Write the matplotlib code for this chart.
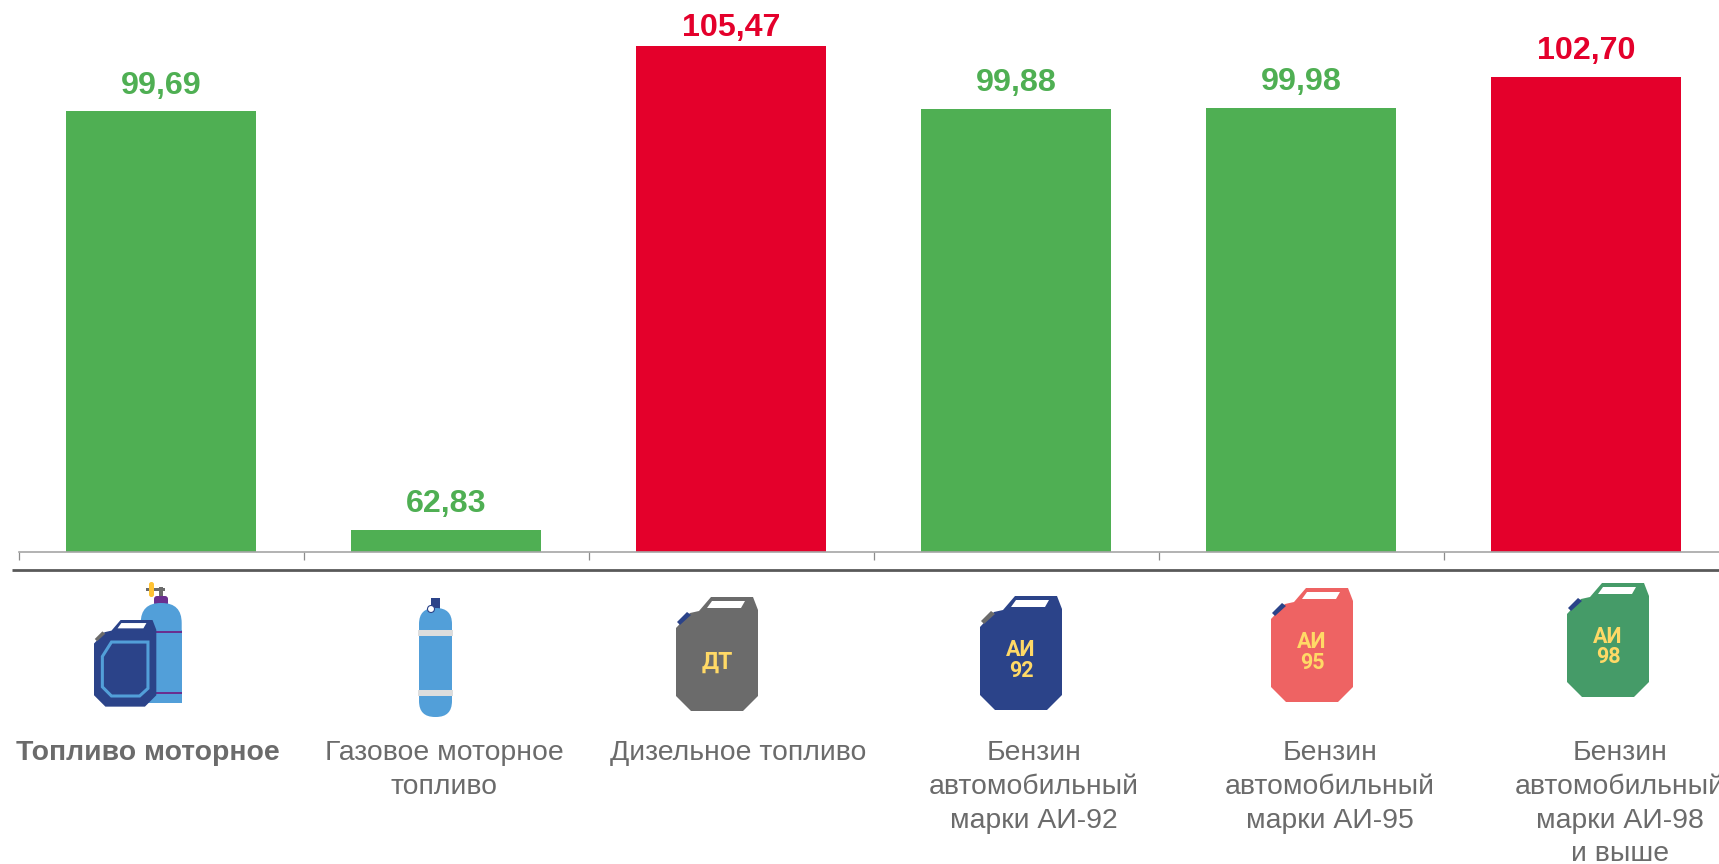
import matplotlib
matplotlib.use('Agg')
import matplotlib.pyplot as plt
from matplotlib.patches import Polygon, Rectangle, FancyBboxPatch, Circle

plt.rcParams['font.family'] = ['Liberation Sans', 'DejaVu Sans']

W, H = 1719, 864

categories = ['Топливо моторное', 'Газовое моторное\nтопливо', 'Дизельное топливо',
              'Бензин\nавтомобильный\nмарки АИ-92', 'Бензин\nавтомобильный\nмарки АИ-95',
              'Бензин\nавтомобильный\nмарки АИ-98\nи выше']
values = [99.69, 62.83, 105.47, 99.88, 99.98, 102.70]
value_labels = ['99,69', '62,83', '105,47', '99,88', '99,98', '102,70']

GREEN = '#4FAF53'
RED = '#E4002B'
GREY = '#6B6B6B'
NAVY = '#2B4389'
BLUE = '#529FD9'
YELLOW = '#FFD966'
PURPLE = '#6A2F8F'
bar_colors = [RED if v > 100 else GREEN for v in values]

label_x = [148, 444, 738, 1034, 1330, 1620]

fig = plt.figure(figsize=(W / 100, H / 100), dpi=100)

# chart axes: 285px per category, runs off the right edge like the original
left, base = 18.6, 552
ax = fig.add_axes([left / W, 1 - base / H, 285 * 6 / W, base / H])
scale = 11.365
ax.set_ylim(60.93, 60.93 + base / scale)
ax.set_xlim(0, 6)
x = [i + 0.5 for i in range(len(values))]
ax.bar(x, values, width=0.669, color=bar_colors)
for xi, v, s, c in zip(x, values, value_labels, bar_colors):
    # tallest label is squeezed against the top of the picture
    gap = 1.7 if v == max(values) else 7.9
    ax.annotate(s, (xi, v), xytext=(0, gap), textcoords='offset points', ha='center', va='bottom',
                fontsize=23.2, fontweight='bold', color=c)
for s in ['top', 'left', 'right']:
    ax.spines[s].set_visible(False)
ax.spines['bottom'].set_color('#A6A6A6')
ax.spines['bottom'].set_linewidth(1.2)
ax.patch.set_alpha(0)
ax.set_yticks([])
ax.set_xticks(range(6))
ax.set_xticklabels([])
ax.tick_params(axis='x', length=5.8, width=0.9, color='#8C8C8C')

# overlay in pixel coords for the line, icons and captions
ov = fig.add_axes([0, 0, 1, 1])
ov.set_xlim(0, W)
ov.set_ylim(H, 0)
ov.axis('off')
ov.patch.set_alpha(0)

ov.plot([12, W], [570, 570], color='#595959', lw=2, solid_capstyle='butt')

body = [(0, 31), (14, 16), (23, 14), (35, 0), (77, 0), (82, 13), (82, 99), (67, 114), (15, 114), (0, 99)]
window = [(36, 4), (69, 4), (65, 11), (31, 11)]
cap = [(1, 25), (11, 15), (15, 18), (4, 28)]
inner = [(11, 48), (23, 29), (71, 29), (71, 90), (60, 100), (23, 100), (11, 88)]


def can(px, py, color, capcolor, k=1.0):
    pts = lambda p: [(px + a * k, py + b * k) for a, b in p]
    ov.add_patch(Polygon(pts(body), color=color, lw=0))
    ov.add_patch(Polygon(pts(cap), color=capcolor, lw=0))
    ov.add_patch(Polygon(pts(window), color='white', lw=0))


def can_text(cx, cy, s, size=15.5):
    ov.text(cx, cy, s, ha='center', va='center', color=YELLOW, fontsize=size, fontweight='bold',
            family=['Roboto', 'DejaVu Sans'])


# icon 1: cylinder + can
ov.add_patch(Rectangle((146, 588), 19, 3, color=GREY, lw=0))
ov.add_patch(Rectangle((159, 587), 4, 10, color=GREY, lw=0))
ov.add_patch(FancyBboxPatch((149, 582), 5, 15, boxstyle='round,pad=0,rounding_size=2.4', color='#FFC233', lw=0))
ov.add_patch(FancyBboxPatch((154, 596), 14, 10, boxstyle='round,pad=0,rounding_size=3', color=PURPLE, lw=0))
ov.add_patch(FancyBboxPatch((140.7, 603), 41, 60, boxstyle='round,pad=0,rounding_size=20', color=BLUE, lw=0))
ov.add_patch(Rectangle((140.7, 630), 41, 73, color=BLUE, lw=0))
ov.add_patch(Rectangle((140.7, 631), 41, 2, color=PURPLE, lw=0))
ov.add_patch(Rectangle((140.7, 692), 41, 2, color=PURPLE, lw=0))
can(94, 620, NAVY, GREY, k=0.76)
ov.add_patch(Polygon([(94 + a * 0.76, 620 + b * 0.76) for a, b in inner], closed=True, fill=False,
                     edgecolor=BLUE, lw=2.2))

# icon 2: cylinder
ov.add_patch(Rectangle((431, 598), 9, 12, color=NAVY, lw=0))
ov.add_patch(FancyBboxPatch((419, 608), 33, 109, boxstyle='round,pad=0,rounding_size=16', color=BLUE, lw=0))
ov.add_patch(Rectangle((418, 630), 35, 6, color='#DDDDDD', lw=0))
ov.add_patch(Rectangle((418, 690), 35, 6, color='#DDDDDD', lw=0))
ov.add_patch(Circle((431, 609), 3.5, facecolor='white', edgecolor=NAVY, lw=0.8))

# cans
can(676, 597, GREY, NAVY)
can_text(717, 662, 'ДТ', 16.5)
can(980, 596, NAVY, GREY)
can_text(1021, 650, 'АИ')
can_text(1021, 671, '92')
can(1271, 588, '#EE6363', NAVY)
can_text(1312, 642, 'АИ')
can_text(1312, 663, '95')
can(1567, 583, '#459B68', NAVY)
can_text(1608, 637, 'АИ')
can_text(1608, 657, '98')

# captions
for i, (cx, s) in enumerate(zip(label_x, categories)):
    ov.text(cx, 740, s, ha='center', va='top', multialignment='center', fontsize=20.4, color=GREY,
            linespacing=1.39, fontweight='bold' if i == 0 else 'normal')

fig.savefig('out.png', dpi=100, facecolor='white')
